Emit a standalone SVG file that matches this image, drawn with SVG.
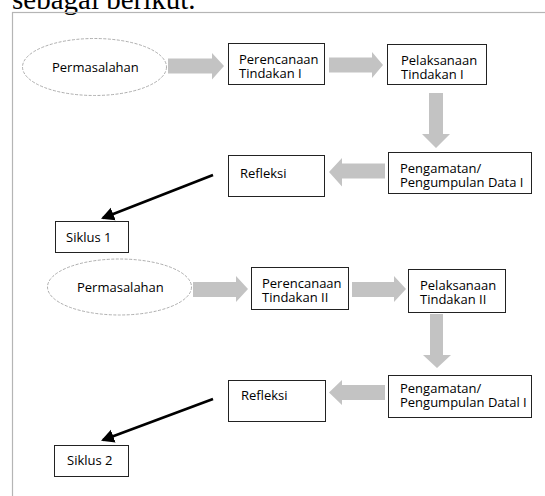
<svg xmlns="http://www.w3.org/2000/svg" width="545" height="496" viewBox="0 0 545 496">
<style>
.t{font-family:"Open Sans","Noto Sans",sans-serif;font-size:13px;fill:#000}
.box{fill:#fff;stroke:#222;stroke-width:1}
.ell{fill:#fff;stroke:#999;stroke-width:0.8;stroke-dasharray:3 1.5}
.ga{fill:#c3c3c3}
.ba{fill:none;stroke:#000;stroke-width:2.6}
</style>
<defs>
<marker id="ah" markerWidth="6" markerHeight="6" refX="4.2" refY="3" orient="auto" markerUnits="strokeWidth">
<path d="M0,0.4 L5,3 L0,5.6 Z" fill="#000"/>
</marker>
</defs>
<rect width="545" height="496" fill="#fff"/>
<text x="12" y="9" style="font-family:'Liberation Serif',serif;font-size:29px;fill:#000">sebagai berikut.</text>
<rect x="12.5" y="12.5" width="540" height="500" fill="none" stroke="#b5b5b5" stroke-width="1.2"/>

<g id="connectors">
<polygon class="ga" points="168,58.5 212,58.5 212,53 224,66 212,79.5 212,73.5 168,73.5"/>
<polygon class="ga" points="329,57.5 372,57.5 372,52 383,65 372,78 372,72.5 329,72.5"/>
<polygon class="ga" points="429,93 443,93 443,134 450,134 436,148 422,134 429,134"/>
<polygon class="ga" points="385,163.5 342,163.5 342,158 329,172 342,186.5 342,178.5 385,178.5"/>
<line class="ba" x1="213" y1="175" x2="103" y2="218" marker-end="url(#ah)"/>

<polygon class="ga" points="193,282 236,282 236,276 248,289 236,302 236,297 193,297"/>
<polygon class="ga" points="352,282 394,282 394,276 406,289 394,302 394,297 352,297"/>
<polygon class="ga" points="430,314 443,314 443,355 451,355 437,368 423,355 430,355"/>
<polygon class="ga" points="385,385 342,385 342,380 329,392.5 342,405 342,400 385,400"/>
<line class="ba" x1="213" y1="399" x2="103" y2="440" marker-end="url(#ah)"/>
</g>

<g id="permasalahan1">
<ellipse class="ell" cx="94.5" cy="67" rx="72" ry="28.5"/>
<text class="t" x="52" y="72">Permasalahan</text>
</g>
<g id="perencanaan1">
<rect class="box" x="228.5" y="43.5" width="96" height="41"/>
<text class="t"><tspan x="239" y="64">Perencanaan</tspan><tspan x="239" y="78">Tindakan I</tspan></text>
</g>
<g id="pelaksanaan1">
<rect class="box" x="387.5" y="44.5" width="99" height="40"/>
<text class="t"><tspan x="401" y="65">Pelaksanaan</tspan><tspan x="401" y="79">Tindakan I</tspan></text>
</g>
<g id="pengamatan1">
<rect class="box" x="388.5" y="152.5" width="143" height="41"/>
<text class="t"><tspan x="400" y="173">Pengamatan/</tspan><tspan x="400" y="187">Pengumpulan Data I</tspan></text>
</g>
<g id="refleksi1">
<rect class="box" x="228.5" y="155.5" width="96" height="41"/>
<text class="t" x="240" y="178">Refleksi</text>
</g>
<g id="siklus1">
<rect class="box" x="55.5" y="221.5" width="73" height="31"/>
<text class="t" x="66" y="242">Siklus 1</text>
</g>

<g id="permasalahan2">
<ellipse class="ell" cx="119.5" cy="287" rx="72" ry="28"/>
<text class="t" x="77" y="292">Permasalahan</text>
</g>
<g id="perencanaan2">
<rect class="box" x="251.5" y="267.5" width="97" height="42"/>
<text class="t"><tspan x="262" y="288">Perencanaan</tspan><tspan x="262" y="302">Tindakan II</tspan></text>
</g>
<g id="pelaksanaan2">
<rect class="box" x="408.5" y="269.5" width="97" height="43"/>
<text class="t"><tspan x="420" y="290">Pelaksanaan</tspan><tspan x="420" y="304">Tindakan II</tspan></text>
</g>
<g id="pengamatan2">
<rect class="box" x="388.5" y="375.5" width="143" height="42"/>
<text class="t"><tspan x="400" y="393">Pengamatan/</tspan><tspan x="400" y="407">Pengumpulan Datal I</tspan></text>
</g>
<g id="refleksi2">
<rect class="box" x="228.5" y="380.5" width="97" height="41"/>
<text class="t" x="241" y="400">Refleksi</text>
</g>
<g id="siklus2">
<rect class="box" x="54.5" y="445.5" width="74" height="31"/>
<text class="t" x="67" y="465">Siklus 2</text>
</g>
</svg>
